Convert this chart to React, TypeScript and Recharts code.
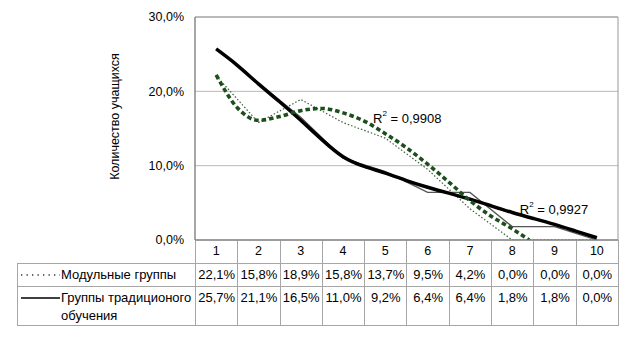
import { CartesianGrid, Line, LineChart, ReferenceArea, ReferenceDot, XAxis, YAxis } from "recharts";

const categories = [1, 2, 3, 4, 5, 6, 7, 8, 9, 10];
const modularValues = [22.1, 15.8, 18.9, 15.8, 13.7, 9.5, 4.2, 0.0, 0.0, 0.0];
const traditionalValues = [25.7, 21.1, 16.5, 11.0, 9.2, 6.4, 6.4, 1.8, 1.8, 0.0];

// polynomial trend lines at half steps
const modularTrendX = [1, 1.5, 2, 2.5, 3, 3.5, 4, 4.5, 5, 5.5, 6, 6.5, 7, 7.5, 8, 8.4];
const modularTrendValues = [22.2, 17.8, 16.1, 16.6, 17.4, 17.7, 17.1, 16.0, 14.3, 12.4, 10.2, 7.8, 5.3, 3.2, 1.5, 0.0];
const traditionalTrendX = [1, 1.5, 2, 2.5, 3, 3.5, 4, 4.5, 5, 5.5, 6, 6.5, 7, 7.5, 8, 8.5, 9, 9.5, 10];
const traditionalTrendValues = [25.7, 23.5, 21.0, 18.6, 16.1, 13.5, 11.2, 9.9, 9.0, 8.0, 7.1, 6.3, 5.5, 4.6, 3.7, 2.9, 2.1, 1.2, 0.3];

const yTicks = [0, 10, 20, 30];
const seriesNames = [["Модульные группы"], ["Группы традиционого", "обучения"]];
const r2Values = ["0,9908", "0,9927"];
const r2Anchors = [
  { x: 4.71, y: 16.4 },
  { x: 8.18, y: 4.15 },
];

const FONT = '"Liberation Sans", Arial, sans-serif';
const GRID = "#a6a6a6";
const COL0 = 178;
const COLW = 42.3;

const fmt = (v: number) => v.toFixed(1).replace(".", ",") + "%";

const modularData = categories.map((x, i) => ({ x, value: modularValues[i] }));
const traditionalData = categories.map((x, i) => ({ x, value: traditionalValues[i] }));
const modularTrend = modularTrendX.map((x, i) => ({ x, value: modularTrendValues[i] }));
const traditionalTrend = traditionalTrendX.map((x, i) => ({ x, value: traditionalTrendValues[i] }));

function r2Label(value: string) {
  return (props: any) => {
    const { x, y } = props.viewBox;
    return (
      <text x={x} y={y} fontSize={13} fontFamily={FONT} fill="#000" dominantBaseline="central">
        R
        <tspan fontSize={8} dy={-5}>2</tspan>
        <tspan dy={5}> = {value}</tspan>
      </text>
    );
  };
}

function YLabel(props: any) {
  const { viewBox } = props;
  const cx = 115;
  const cy = viewBox.y + viewBox.height / 2 - 12;
  return (
    <text
      x={cx}
      y={cy}
      transform={`rotate(-90, ${cx}, ${cy})`}
      textAnchor="middle"
      dominantBaseline="central"
      fontSize={12.5}
      fontFamily={FONT}
      fill="#000"
    >
      Количество учащихся
    </text>
  );
}

function Swatch({ dotted }: { dotted: boolean }) {
  return (
    <svg width={40} height={10} style={{ flex: "none", marginRight: 1 }}>
      <line
        x1={1}
        x2={40}
        y1={5}
        y2={5}
        stroke={dotted ? "#333" : "#000"}
        strokeWidth={dotted ? 1.3 : 1.4}
        strokeDasharray={dotted ? "1.3 4.2" : undefined}
      />
    </svg>
  );
}

export default function App() {
  const cell = { border: `1px solid ${GRID}`, padding: 0, textAlign: "center" as const };
  const rows = [modularValues, traditionalValues];

  return (
    <div style={{ position: "absolute", left: 0, top: 0, width: 626, height: 344, background: "#fff", fontFamily: FONT }}>
      <table
        style={{
          position: "absolute",
          left: 17,
          top: 240,
          borderCollapse: "collapse",
          tableLayout: "fixed",
          width: COL0 + COLW * 10,
          fontSize: 13,
          lineHeight: "18px",
          color: "#000",
        }}
      >
        <colgroup>
          <col style={{ width: COL0 }} />
          {categories.map((c) => (
            <col key={c} style={{ width: COLW }} />
          ))}
        </colgroup>
        <tbody>
          <tr style={{ height: 23 }}>
            <td style={{ ...cell, borderTop: "none", borderLeft: "none" }} />
            {categories.map((c) => (
              <td key={c} style={{ ...cell, borderTop: "none" }} />
            ))}
          </tr>
          {rows.map((vals, r) => (
            <tr key={r} style={{ height: r === 0 ? 23 : 37 }}>
              <td style={{ ...cell, textAlign: "left", verticalAlign: r === 0 ? "middle" : "top", paddingTop: r === 0 ? 0 : 2 }}>
                <div style={{ display: "flex", alignItems: "flex-start", paddingLeft: 2 }}>
                  <div style={{ height: 18, display: "flex", alignItems: "center" }}>
                    <Swatch dotted={r === 0} />
                  </div>
                  <div style={{ whiteSpace: "nowrap" }}>
                    {seriesNames[r].map((line) => (
                      <div key={line}>{line}</div>
                    ))}
                  </div>
                </div>
              </td>
              {vals.map((v, i) => (
                <td key={i} style={{ ...cell, verticalAlign: r === 0 ? "middle" : "top", paddingTop: r === 0 ? 0 : 2 }}>
                  {fmt(v)}
                </td>
              ))}
            </tr>
          ))}
        </tbody>
      </table>

      <div style={{ position: "absolute", left: 0, top: 0 }}>
        <LineChart width={626} height={263} margin={{ top: 17, right: 8, bottom: 0, left: 0 }}>
          <CartesianGrid vertical={false} stroke="#b8b8b8" />
          <XAxis
            type="number"
            dataKey="x"
            domain={[0.5, 10.5]}
            ticks={categories}
            interval={0}
            height={23}
            tickLine={false}
            tickSize={4}
            tickMargin={2}
            axisLine={{ stroke: "#808080" }}
            tick={{ fontSize: 12.5, fontFamily: FONT, fill: "#000" }}
            allowDataOverflow
          />
          <YAxis
            type="number"
            domain={[0, 30]}
            ticks={yTicks}
            width={195}
            tickLine={false}
            tickSize={4}
            tickMargin={7}
            axisLine={{ stroke: "#808080" }}
            tickFormatter={fmt}
            tick={{ fontSize: 12.5, fontFamily: FONT, fill: "#000" }}
            label={{ content: YLabel }}
            allowDataOverflow
          />
          <ReferenceArea x1={0.5} x2={10.5} y1={0} y2={30} fill="none" stroke="#999" />
          <Line
            data={traditionalData}
            dataKey="value"
            type="linear"
            stroke="#555"
            strokeWidth={1.3}
            dot={false}
            activeDot={false}
            isAnimationActive={false}
          />
          <Line
            data={modularData}
            dataKey="value"
            type="linear"
            stroke="#3d5f3d"
            strokeWidth={1.2}
            strokeDasharray="1.5 2"
            dot={false}
            activeDot={false}
            isAnimationActive={false}
          />
          <Line
            data={traditionalTrend}
            dataKey="value"
            type="natural"
            stroke="#000"
            strokeWidth={3.5}
            dot={false}
            activeDot={false}
            isAnimationActive={false}
          />
          <Line
            data={modularTrend}
            dataKey="value"
            type="monotone"
            stroke="#1d4f1d"
            strokeWidth={3.6}
            strokeDasharray="4.5 3"
            dot={false}
            activeDot={false}
            isAnimationActive={false}
          />
          {r2Anchors.map((a, i) => (
            <ReferenceDot
              key={i}
              x={a.x}
              y={a.y}
              r={0}
              fill="none"
              stroke="none"
              ifOverflow="visible"
              label={{ content: r2Label(r2Values[i]) }}
            />
          ))}
        </LineChart>
      </div>
    </div>
  );
}
